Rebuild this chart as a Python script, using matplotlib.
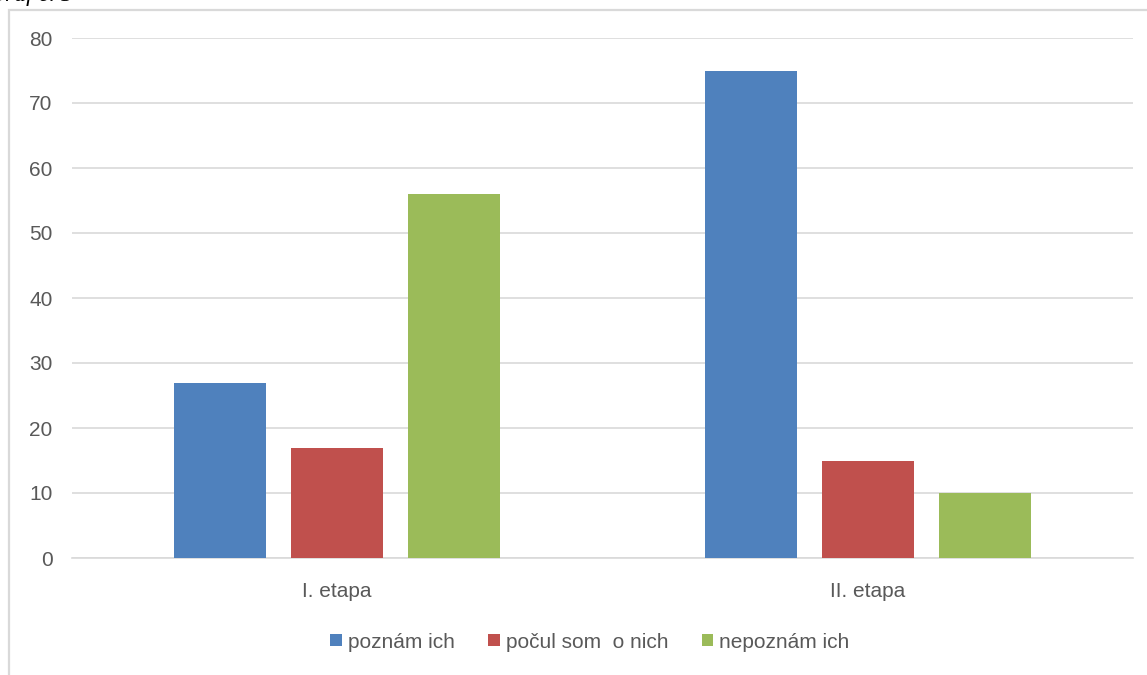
import numpy as np
import matplotlib.pyplot as plt
from matplotlib.patches import Rectangle

categories = ["I. etapa", "II. etapa"]
series_names = ["poznám ich", "počul som  o nich", "nepoznám ich"]
poznam = [27, 75]
pocul = [17, 15]
nepoznam = [56, 10]
colors = ["#4f81bd", "#c0504d", "#9bbb59"]
yticks = [0, 10, 20, 30, 40, 50, 60, 70, 80]

plt.rcParams['font.family'] = ['Liberation Sans', 'DejaVu Sans']

W, H = 1147, 675
fig = plt.figure(figsize=(W / 100, H / 100), dpi=100)
ax = fig.add_axes([72 / W, (H - 558) / H, (1133 - 72) / W, (558 - 38) / H])

x = np.arange(len(categories))
width = 0.173
step = 0.2205
for i, (vals, name) in enumerate(zip([poznam, pocul, nepoznam], series_names)):
    ax.bar(x + (i - 1) * step, vals, width, color=colors[i], label=name, zorder=3)

ax.set_xlim(-0.5, 1.5)
ax.set_ylim(0, 80)
ax.set_yticks(yticks)
ax.set_xticks(x)
ax.set_xticklabels(categories)
ax.grid(axis='y', color='#d9d9d9', linewidth=1.2, zorder=0)
for s in ax.spines.values():
    s.set_visible(False)
ax.spines['bottom'].set_visible(True)
ax.spines['bottom'].set_color('#d9d9d9')
ax.spines['bottom'].set_linewidth(1.2)
ax.tick_params(axis='both', length=0, labelsize=15, colors='#595959')
ax.tick_params(axis='y', pad=14)
ax.tick_params(axis='x', pad=17)

leg = ax.legend(loc='center', bbox_to_anchor=(590 / W, 1 - 642 / H),
                bbox_transform=fig.transFigure, ncol=3, frameon=False,
                fontsize=15, handlelength=0.55, handleheight=0.55,
                handletextpad=0.3, columnspacing=1.6)
for t in leg.get_texts():
    t.set_color('#595959')

# chart border (cut off at right and bottom)
fig.patches.append(Rectangle((9 / W, -0.05), 1.2, 1 - 10 / H + 0.05,
                             transform=fig.transFigure, fill=False,
                             edgecolor='#d9d9d9', linewidth=1.6))
# caption above the chart, mostly outside the picture as in the source
fig.text(-12 / W, 1 + 4 / H, "Graf č. 5", fontsize=17, style='italic',
         family=['Liberation Serif', 'DejaVu Serif'], va='center')

fig.savefig("out.png", dpi=100)
